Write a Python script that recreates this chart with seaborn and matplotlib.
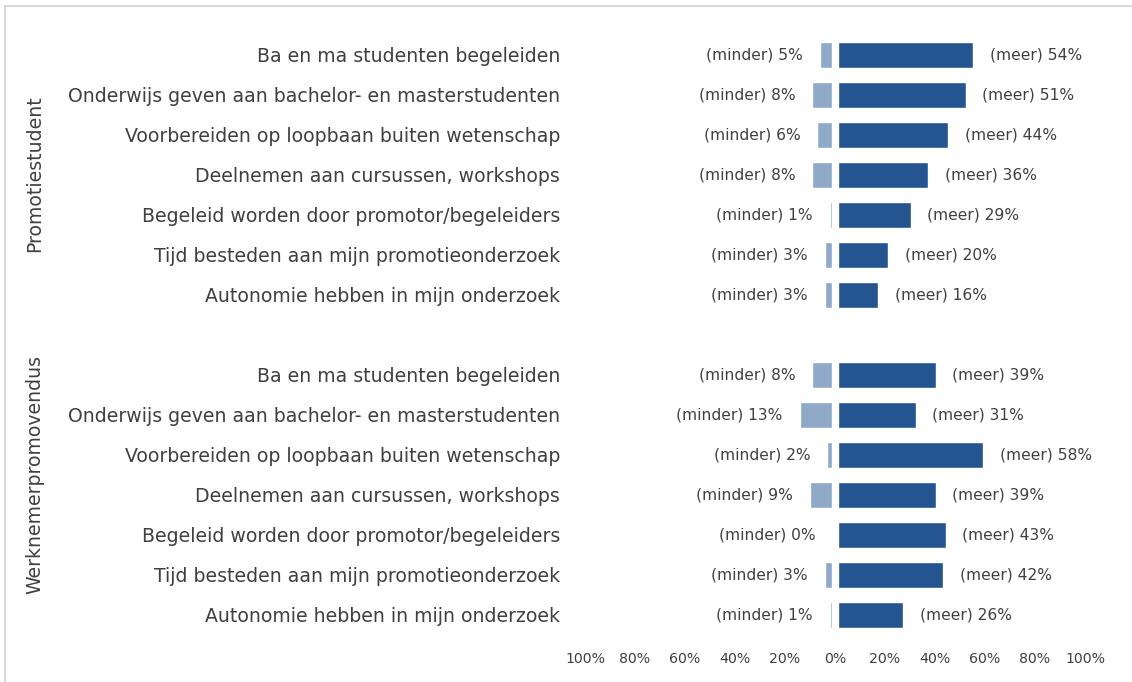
import matplotlib.pyplot as plt  # plotting
import seaborn as sns  # bars
import pandas as pd

# Data
items = ['Ba en ma studenten begeleiden',
         'Onderwijs geven aan bachelor- en masterstudenten',
         'Voorbereiden op loopbaan buiten wetenschap',
         'Deelnemen aan cursussen, workshops',
         'Begeleid worden door promotor/begeleiders',
         'Tijd besteden aan mijn promotieonderzoek',
         'Autonomie hebben in mijn onderzoek']
groups = ['Promotiestudent', 'Werknemerpromovendus']
minder_promotiestudent = [5, 8, 6, 8, 1, 3, 3]
meer_promotiestudent = [54, 51, 44, 36, 29, 20, 16]
minder_werknemer = [8, 13, 2, 9, 0, 3, 1]
meer_werknemer = [39, 31, 58, 39, 43, 42, 26]
x_ticks = [-100, -80, -60, -40, -20, 0, 20, 40, 60, 80, 100]

dark = '#245591'
light = '#8FA9C9'
text_color = '#404040'

# Build a long table, one row per item per group
rows = []
for g, mi, me in [(groups[0], minder_promotiestudent, meer_promotiestudent),
                  (groups[1], minder_werknemer, meer_werknemer)]:
    for item, a, b in zip(items, mi, me):
        rows.append({'key': g + '|' + item, 'item': item, 'minder': a, 'meer': b})
df = pd.DataFrame(rows)
df['minder_neg'] = -df['minder']

# order with an empty slot between the two groups
order = [groups[0] + '|' + i for i in items] + ['gap'] + [groups[1] + '|' + i for i in items]

sns.set_style('white')
plt.rcParams['font.family'] = ['DejaVu Sans']

fig = plt.figure(figsize=(11.32, 6.82), dpi=100)
ax = fig.add_axes([585 / 1132, 47 / 682, 500 / 1132, 600 / 682])

sns.barplot(data=df, x='minder_neg', y='key', order=order, orient='h',
            color=light, width=0.66, saturation=1, ax=ax)
n_minder = len(ax.patches)
sns.barplot(data=df, x='meer', y='key', order=order, orient='h',
            color=dark, width=0.66, saturation=1, ax=ax)

# small white gap either side of zero
gap = 1.2
for i, p in enumerate(ax.patches):
    if i < n_minder:
        p.set_x(p.get_x() - gap)
    else:
        p.set_x(p.get_x() + gap)

# value labels
for _, r in df.iterrows():
    y = order.index(r['key'])
    ax.annotate(f"(minder) {r['minder']}%", (-r['minder'] - gap, y),
                xytext=(-12, 0), textcoords='offset points',
                ha='right', va='center', fontsize=11.2, color=text_color)
    ax.annotate(f"(meer) {r['meer']}%", (r['meer'] + gap, y),
                xytext=(12, 0), textcoords='offset points',
                ha='left', va='center', fontsize=11.2, color=text_color)

ax.set_xlim(-100, 100)
ax.set_xticks(x_ticks)
ax.set_xticklabels([f'{abs(t)}%' for t in x_ticks])
ax.set_yticks(range(len(order)))
ax.set_yticklabels([k.split('|')[-1] if k != 'gap' else '' for k in order])
ax.tick_params(axis='y', length=0, pad=18, labelsize=13.6, labelcolor=text_color)
ax.tick_params(axis='x', length=0, pad=12, labelsize=10.2, labelcolor=text_color)
ax.set_xlabel('')
ax.set_ylabel('')
sns.despine(ax=ax, left=True, bottom=True)

# group labels
fig.text(35 / 1132, 1 - 174 / 682, groups[0], rotation=90, ha='center', va='center',
         fontsize=13.6, color=text_color)
fig.text(35 / 1132, 1 - 475 / 682, groups[1], rotation=90, ha='center', va='center',
         fontsize=13.6, color=text_color)

# light frame around the chart area
fig.patches.append(plt.Rectangle((5 / 1132, -0.5), 2, 0.5 + 1 - 5.5 / 682,
                                 transform=fig.transFigure, fill=False,
                                 edgecolor='#D9D9D9', linewidth=1.5))

fig.savefig('out.png', dpi=100)
